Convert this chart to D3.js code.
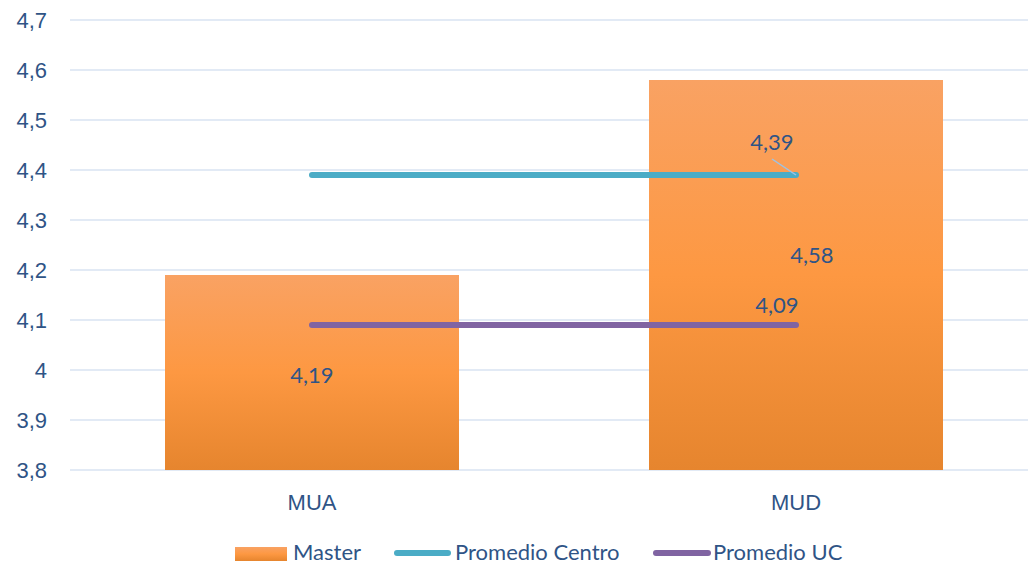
<!DOCTYPE html>
<html><head><meta charset="utf-8">
<script src="https://cdn.jsdelivr.net/npm/d3@7"></script>
<style>body{margin:0;background:#fff}svg{display:block;font-family:Lato,"Open Sans",sans-serif}</style>
</head><body><svg id="c" width="1028" height="566"></svg>
<script>
const categories = ["MUA", "MUD"];
const master = [4.19, 4.58];
const promedioCentro = [4.39, 4.39];
const promedioUC = [4.09, 4.09];
const yTicks = [3.8, 3.9, 4.0, 4.1, 4.2, 4.3, 4.4, 4.5, 4.6, 4.7];
const seriesNames = ["Master", "Promedio Centro", "Promedio UC"];

const svg = d3.select("#c");
const textColor = "#2F5486";
const fs = "22px";
const x = d3.scaleBand().domain(categories).range([70, 1038]).paddingInner(0.392).paddingOuter(0.196);
const y = d3.scaleLinear().domain([3.8, 4.7]).range([470, 20]);
const fmt = v => String(+v.toFixed(2)).replace(".", ",");

const defs = svg.append("defs");
const g = defs.append("linearGradient").attr("id", "bg").attr("x1", 0).attr("y1", 0).attr("x2", 0).attr("y2", 1);
g.append("stop").attr("offset", "0%").attr("stop-color", "#F9A263");
g.append("stop").attr("offset", "50%").attr("stop-color", "#FD9842");
g.append("stop").attr("offset", "100%").attr("stop-color", "#E6852E");

// grid
svg.append("g").selectAll("line").data(yTicks).join("line")
  .attr("x1", 70).attr("x2", 1028).attr("y1", d => y(d)).attr("y2", d => y(d))
  .attr("stroke", "#D9E3F2").attr("stroke-width", 1.5);

// y axis labels
const yAxis = svg.append("g").attr("transform", "translate(51,0)")
  .call(d3.axisLeft(y).tickValues(yTicks).tickSize(0).tickFormat(fmt));
yAxis.select(".domain").remove();
yAxis.selectAll("text").attr("fill", textColor).style("font-size", fs).attr("x", -4).attr("dy", "0.35em");

// bars
const bw = 294;
svg.append("g").selectAll("rect").data(master).join("rect")
  .attr("x", (d, i) => x(categories[i]) + x.bandwidth() / 2 - bw / 2)
  .attr("width", bw)
  .attr("y", d => y(d)).attr("height", d => y(3.8) - y(d))
  .attr("fill", "url(#bg)");

// x labels
const xAxis = svg.append("g").attr("transform", "translate(0,470)")
  .call(d3.axisBottom(x).tickSize(0));
xAxis.select(".domain").remove();
xAxis.selectAll("text").attr("fill", textColor).style("font-size", fs).attr("dy", "0").attr("y", 40);

// lines
const cx = c => x(c) + x.bandwidth() / 2;
const line = d3.line().x((d, i) => cx(categories[i])).y(d => y(d));
svg.append("path").datum(promedioCentro).attr("d", line).attr("fill", "none")
  .attr("stroke", "#4BACC6").attr("stroke-width", 6).attr("stroke-linecap", "round");
svg.append("path").datum(promedioUC).attr("d", line).attr("fill", "none")
  .attr("stroke", "#8064A2").attr("stroke-width", 6).attr("stroke-linecap", "round");

// data labels
const lab = (t, px, py) => svg.append("text").attr("x", px).attr("y", py).attr("text-anchor", "middle")
  .attr("dy", "0.35em").attr("fill", textColor).style("font-size", fs).text(t);
lab(fmt(master[0]), cx("MUA"), y(master[0]) + 100);
lab(fmt(master[1]), cx("MUD") + 16, y(master[1]) + 175);
lab(fmt(promedioCentro[1]), cx("MUD") - 24, y(promedioCentro[1]) - 33);
lab(fmt(promedioUC[1]), cx("MUD") - 19, y(promedioUC[1]) - 20);
svg.append("line").attr("x1", cx("MUD") - 24).attr("y1", y(promedioCentro[1]) - 16)
  .attr("x2", cx("MUD")).attr("y2", y(promedioCentro[1]))
  .attr("stroke", "#9DC3E6").attr("stroke-width", 1.5);

// legend
const leg = svg.append("g").style("font-size", fs);
leg.append("rect").attr("x", 235).attr("y", 547).attr("width", 52).attr("height", 14).attr("fill", "url(#bg)");
leg.append("text").attr("x", 293).attr("y", 552).attr("dy", "0.35em").attr("fill", textColor).text(seriesNames[0]);
leg.append("line").attr("x1", 397).attr("x2", 448).attr("y1", 553).attr("y2", 553)
  .attr("stroke", "#4BACC6").attr("stroke-width", 6).attr("stroke-linecap", "round");
leg.append("text").attr("x", 455).attr("y", 552).attr("dy", "0.35em").attr("fill", textColor).text(seriesNames[1]);
leg.append("line").attr("x1", 656).attr("x2", 708).attr("y1", 553).attr("y2", 553)
  .attr("stroke", "#8064A2").attr("stroke-width", 6).attr("stroke-linecap", "round");
leg.append("text").attr("x", 713).attr("y", 552).attr("dy", "0.35em").attr("fill", textColor).text(seriesNames[2]);
</script></body></html>
